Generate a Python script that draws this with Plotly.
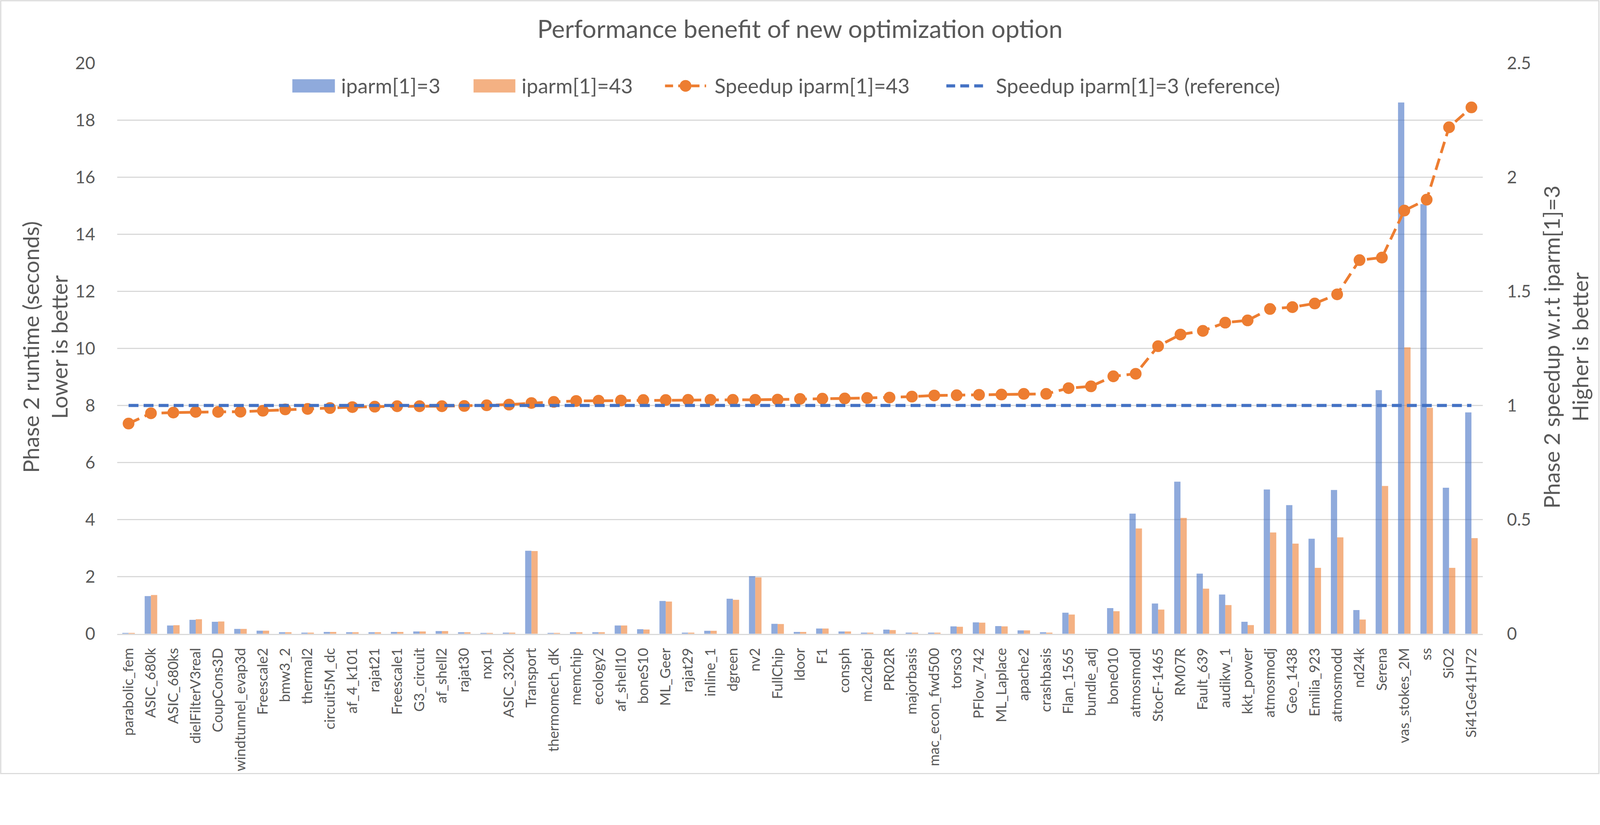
import plotly.graph_objects as go

# matrices, sorted by speedup
categories = [
    "parabolic_fem", "ASIC_680k", "ASIC_680ks", "dielFilterV3real", "CoupCons3D",
    "windtunnel_evap3d", "Freescale2", "bmw3_2", "thermal2", "circuit5M_dc",
    "af_4_k101", "rajat21", "Freescale1", "G3_circuit", "af_shell2",
    "rajat30", "nxp1", "ASIC_320k", "Transport", "thermomech_dK",
    "memchip", "ecology2", "af_shell10", "boneS10", "ML_Geer",
    "rajat29", "inline_1", "dgreen", "nv2", "FullChip",
    "ldoor", "F1", "consph", "mc2depi", "PR02R",
    "majorbasis", "mac_econ_fwd500", "torso3", "PFlow_742", "ML_Laplace",
    "apache2", "crashbasis", "Flan_1565", "bundle_adj", "bone010",
    "atmosmodl", "StocF-1465", "RM07R", "Fault_639", "audikw_1",
    "kkt_power", "atmosmodj", "Geo_1438", "Emilia_923", "atmosmodd",
    "nd24k", "Serena", "vas_stokes_2M", "ss", "SiO2",
    "Si41Ge41H72",
]

# phase 2 runtime in seconds
runtime_ip3 = [
    0.03, 1.32, 0.29, 0.49, 0.42,
    0.17, 0.11, 0.055, 0.04, 0.065,
    0.055, 0.055, 0.065, 0.08, 0.095,
    0.055, 0.03, 0.04, 2.91, 0.03,
    0.055, 0.055, 0.29, 0.16, 1.15,
    0.04, 0.105, 1.23, 2.02, 0.35,
    0.065, 0.185, 0.08, 0.04, 0.145,
    0.04, 0.04, 0.26, 0.40, 0.27,
    0.12, 0.055, 0.74, 0.0, 0.90,
    4.21, 1.06, 5.33, 2.11, 1.375,
    0.42, 5.055, 4.51, 3.33, 5.04,
    0.83, 8.54, 18.62, 15.06, 5.12,
    7.76,
]
runtime_ip43 = [
    0.03, 1.36, 0.30, 0.51, 0.43,
    0.17, 0.11, 0.055, 0.04, 0.065,
    0.055, 0.055, 0.065, 0.08, 0.095,
    0.055, 0.03, 0.04, 2.90, 0.03,
    0.055, 0.055, 0.29, 0.15, 1.13,
    0.04, 0.105, 1.19, 1.975, 0.34,
    0.065, 0.185, 0.08, 0.04, 0.13,
    0.04, 0.04, 0.245, 0.39, 0.26,
    0.12, 0.04, 0.675, 0.0, 0.79,
    3.69, 0.85, 4.06, 1.58, 1.005,
    0.305, 3.55, 3.16, 2.31, 3.38,
    0.50, 5.18, 10.04, 7.92, 2.31,
    3.35,
]

# speedup w.r.t. iparm[1]=3
speedup_ip43 = [
    0.921, 0.966, 0.969, 0.972, 0.972,
    0.973, 0.977, 0.983, 0.985, 0.989,
    0.993, 0.995, 0.997, 0.997, 0.997,
    0.998, 1.001, 1.004, 1.011, 1.016,
    1.020, 1.021, 1.022, 1.024, 1.024,
    1.025, 1.025, 1.025, 1.025, 1.026,
    1.029, 1.030, 1.031, 1.033, 1.035,
    1.039, 1.044, 1.045, 1.047, 1.048,
    1.051, 1.051, 1.076, 1.084, 1.128,
    1.139, 1.260, 1.311, 1.327, 1.363,
    1.373, 1.423, 1.431, 1.447, 1.487,
    1.637, 1.648, 1.854, 1.902, 2.219,
    2.306,
]
speedup_ip3 = [
    1.0, 1.0, 1.0, 1.0, 1.0, 1.0, 1.0, 1.0, 1.0, 1.0,
    1.0, 1.0, 1.0, 1.0, 1.0, 1.0, 1.0, 1.0, 1.0, 1.0,
    1.0, 1.0, 1.0, 1.0, 1.0, 1.0, 1.0, 1.0, 1.0, 1.0,
    1.0, 1.0, 1.0, 1.0, 1.0, 1.0, 1.0, 1.0, 1.0, 1.0,
    1.0, 1.0, 1.0, 1.0, 1.0, 1.0, 1.0, 1.0, 1.0, 1.0,
    1.0, 1.0, 1.0, 1.0, 1.0, 1.0, 1.0, 1.0, 1.0, 1.0,
    1.0,
]

names = ["iparm[1]=3", "iparm[1]=43", "Speedup iparm[1]=43", "Speedup iparm[1]=3 (reference)"]

FONT = "Lato, Noto Sans, sans-serif"
GREY = "#595959"
GRID = "#D9D9D9"
BLUE_BAR = "rgba(68,114,196,0.6)"
ORANGE_BAR = "rgba(237,125,49,0.6)"
ORANGE = "#ED7D31"
BLUE = "#4472C4"
NOTICK = "rgba(0,0,0,0)"

W, H = 4362, 2111
ML, MR, MT, MB = 320, 320, 172, 384
PW, PH = W - ML - MR, H - MT - MB


def px_x(x):
    return (x - ML) / PW


def px_y(y):
    return 1 - (y - MT) / PH


fig = go.Figure()
fig.add_trace(go.Bar(x=categories, y=runtime_ip3, name=names[0], marker_color=BLUE_BAR,
                     marker_line_width=0, yaxis="y"))
fig.add_trace(go.Bar(x=categories, y=runtime_ip43, name=names[1], marker_color=ORANGE_BAR,
                     marker_line_width=0, yaxis="y"))
fig.add_trace(go.Scatter(x=categories, y=speedup_ip43, name=names[2], yaxis="y2",
                         mode="lines+markers", cliponaxis=False,
                         line=dict(color=ORANGE, width=7.5, dash="32px,16px"),
                         marker=dict(color=ORANGE, size=32)))
fig.add_trace(go.Scatter(x=categories, y=speedup_ip3, name=names[3], yaxis="y2",
                         mode="lines",
                         line=dict(color=BLUE, width=8.5, dash="27px,14px")))

# legend drawn by hand so the symbols get Excel-like size
shapes = []
annotations = []
leg_y = 234
shapes.append(dict(type="rect", xref="paper", yref="paper", x0=px_x(797), x1=px_x(913),
                   y0=px_y(leg_y + 18), y1=px_y(leg_y - 18), fillcolor=BLUE_BAR, line_width=0))
shapes.append(dict(type="rect", xref="paper", yref="paper", x0=px_x(1291), x1=px_x(1405),
                   y0=px_y(leg_y + 18), y1=px_y(leg_y - 18), fillcolor=ORANGE_BAR, line_width=0))
shapes.append(dict(type="line", xref="paper", yref="paper", x0=px_x(1813), x1=px_x(1925),
                   y0=px_y(leg_y), y1=px_y(leg_y), line=dict(color=ORANGE, width=7.5, dash="22px,14px")))
shapes.append(dict(type="circle", xref="paper", yref="paper", x0=px_x(1853), x1=px_x(1885),
                   y0=px_y(leg_y + 16), y1=px_y(leg_y - 16), fillcolor=ORANGE, line_width=0))
shapes.append(dict(type="line", xref="paper", yref="paper", x0=px_x(2580), x1=px_x(2690),
                   y0=px_y(leg_y), y1=px_y(leg_y), line=dict(color=BLUE, width=8.5, dash="24px,14px")))
for xpx, txt in [(928, names[0]), (1420, names[1]), (1946, names[2]), (2713, names[3])]:
    annotations.append(dict(text=txt, xref="paper", yref="paper", x=px_x(xpx), y=px_y(leg_y),
                            xanchor="left", yanchor="middle", showarrow=False,
                            font=dict(family=FONT, size=56, color=GREY)))

# axis titles
annotations.append(dict(text="Phase 2 runtime (seconds)<br>Lower is better", textangle=-90,
                        xref="paper", yref="paper", x=px_x(122), y=px_y(946),
                        xanchor="center", yanchor="middle", showarrow=False,
                        font=dict(family=FONT, size=60, color=GREY)))
annotations.append(dict(text="Phase 2 speedup w.r.t iparm[1]=3<br>Higher is better", textangle=-90,
                        xref="paper", yref="paper", x=px_x(4268), y=px_y(946),
                        xanchor="center", yanchor="middle", showarrow=False,
                        font=dict(family=FONT, size=60, color=GREY)))

# chart area border
shapes.append(dict(type="rect", xref="paper", yref="paper", x0=px_x(2), x1=px_x(W - 3),
                   y0=px_y(H - 3), y1=px_y(2), line=dict(color=GRID, width=3), layer="below"))

fig.update_layout(
    width=W, height=H, autosize=False,
    margin=dict(l=ML, r=MR, t=MT, b=MB, autoexpand=False),
    paper_bgcolor="white", plot_bgcolor="white",
    barmode="group", bargap=0.44, bargroupgap=0,
    showlegend=False,
    font=dict(family=FONT, color=GREY),
    title=dict(text="Performance benefit of new optimization option", x=0.5, xanchor="center",
               xref="paper", y=1 - 80 / H, yref="container", yanchor="middle",
               font=dict(family=FONT, size=68, color=GREY)),
    xaxis=dict(type="category", range=[-0.5, len(categories) - 0.5], autorange=False,
               tickangle=-90, tickfont=dict(size=39, color=GREY),
               showgrid=False, showline=True, linecolor=GRID, linewidth=3,
               ticks="outside", ticklen=20, tickcolor=NOTICK, automargin=False),
    yaxis=dict(range=[0, 20], dtick=2, tickfont=dict(size=47, color=GREY),
               showgrid=True, gridcolor=GRID, gridwidth=3, zeroline=False,
               ticks="outside", ticklen=50, tickcolor=NOTICK, automargin=False),
    yaxis2=dict(range=[0, 2.5], dtick=0.5, overlaying="y", side="right",
                tickfont=dict(size=47, color=GREY), showgrid=False, zeroline=False,
                ticks="outside", ticklen=56, tickcolor=NOTICK, automargin=False),
    shapes=shapes,
    annotations=annotations,
)

# fit the fixed-size figure into whatever viewport the page is opened in
fit_js = """
document.documentElement.style.margin = '0';
document.body.style.margin = '0';
document.body.style.overflow = 'hidden';
var gd = document.getElementById('{plot_id}');
var s = Math.min(window.innerWidth / %d, window.innerHeight / %d);
gd.style.transformOrigin = '0 0';
gd.style.transform = 'scale(' + s + ')';
""" % (W, H)

fig.write_html("out.html", post_script=fit_js, config={"displayModeBar": False})
